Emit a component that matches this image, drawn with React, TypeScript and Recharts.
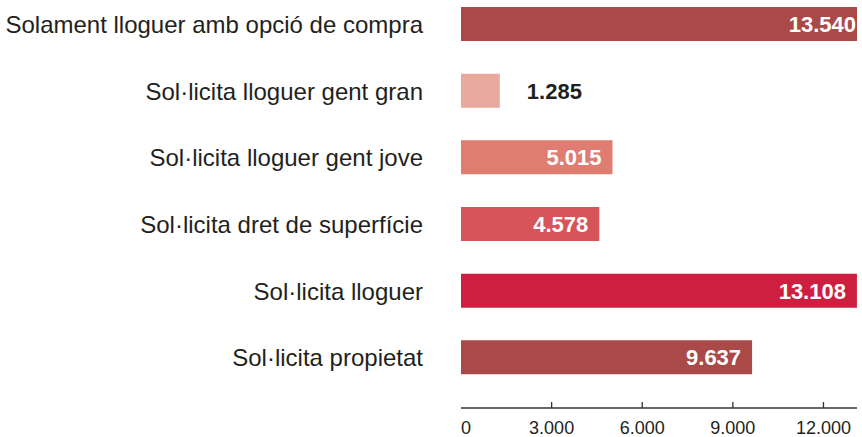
import { BarChart, Bar, XAxis, YAxis, Cell, LabelList } from "recharts"

const categories = [
  "Solament lloguer amb opció de compra",
  "Sol·licita lloguer gent gran",
  "Sol·licita lloguer gent jove",
  "Sol·licita dret de superfície",
  "Sol·licita lloguer",
  "Sol·licita propietat",
]
const values = [13540, 1285, 5015, 4578, 13108, 9637]
const xTicks = [0, 3000, 6000, 9000, 12000]
const X_MAX = 13110

const BAR_COLORS = ["#a94a49", "#e9a99c", "#e07d73", "#d75458", "#ce1f40", "#a94a49"]
const FONT = "'Liberation Sans', Arial, Helvetica, sans-serif"
const INK = "#231f20"

const data = categories.map((name, i) => ({ name, value: values[i] }))

const fmt = (v: number) => String(v).replace(/\B(?=(\d{3})+(?!\d))/g, ".")

const AxisTick = (props: any) => {
  const { x, y, payload, index } = props
  return (
    <g>
      {index > 0 && <line x1={x} x2={x} y1={y - 6} y2={y} stroke="#333" strokeWidth={1.3} />}
      <text
        x={x}
        y={y + 26}
        textAnchor={index === 0 ? "start" : "middle"}
        fill={INK}
        fontSize={18}
        fontFamily={FONT}
      >
        {fmt(payload.value)}
      </text>
    </g>
  )
}

const ValueLabel = (props: any) => {
  const { x, y, width, height, value } = props
  const v = Number(value)
  const inside = width > 60
  // the longest bar runs past the axis end, keep its label clear of the clip
  const pad = v > X_MAX ? 14 : 11
  return (
    <text
      x={inside ? x + width - pad : x + width + 27}
      y={y + height / 2}
      dy="0.36em"
      textAnchor={inside ? "end" : "start"}
      fill={inside ? "#fff" : INK}
      fontSize={22}
      fontWeight="bold"
      fontFamily={FONT}
    >
      {fmt(v)}
    </text>
  )
}

export default function App() {
  return (
    <div style={{ position: "absolute", left: 0, top: -9 }}>
      <BarChart
        width={862}
        height={456}
        data={data}
        layout="vertical"
        margin={{ top: 0, right: 5, left: 0, bottom: 0 }}
      >
        <XAxis
          type="number"
          domain={[0, X_MAX]}
          allowDataOverflow
          ticks={xTicks}
          interval={0}
          axisLine={{ stroke: "#333", strokeWidth: 1.3 }}
          tickLine={false}
          tickSize={0}
          tickMargin={0}
          height={39}
          tick={<AxisTick />}
        />
        <YAxis
          type="category"
          dataKey="name"
          width={461}
          padding={{ top: 0, bottom: 17 }}
          axisLine={false}
          tickLine={false}
          tickSize={0}
          tickMargin={38}
          interval={0}
          tick={{ fill: INK, fontSize: 24, fontFamily: FONT }}
        />
        <Bar dataKey="value" barSize={34} isAnimationActive={false}>
          {data.map((d, i) => (
            <Cell key={d.name} fill={BAR_COLORS[i]} />
          ))}
          <LabelList dataKey="value" content={<ValueLabel />} />
        </Bar>
      </BarChart>
    </div>
  )
}
